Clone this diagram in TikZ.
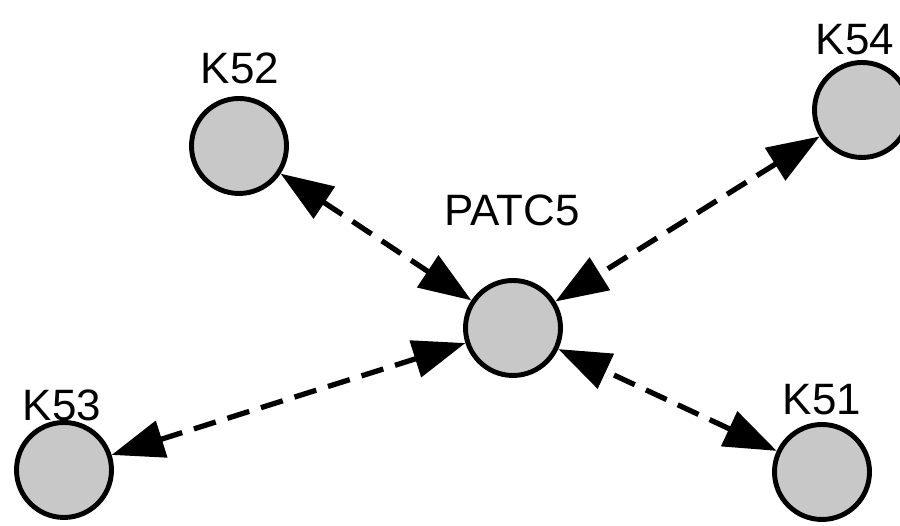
\documentclass[tikz,border=0pt]{standalone}
\usepackage{fontspec}
\setmainfont{Liberation Sans}
\usetikzlibrary{arrows.meta}
\definecolor{nodegray}{RGB}{200,200,200}

\begin{document}
\begin{tikzpicture}[
  protein/.style={circle,draw=black,line width=2.8pt,fill=nodegray,minimum size=1.9cm,inner sep=0pt},
  plabel/.style={font=\fontsize{25}{27}\selectfont,inner sep=0pt},
  link/.style={dash pattern=on 13pt off 7pt,line width=3pt,{Triangle[length=1.05cm,width=0.75cm]}-{Triangle[length=1.05cm,width=0.75cm]}}
]
\useasboundingbox (0,0) rectangle (18,10.52);
\node[protein] (patc5) at (10.26,3.96) {};
\node[protein] (k52) at (4.78,7.6) {};
\node[protein] (k54) at (17.24,8.32) {};
\node[protein] (k53) at (1.28,1.12) {};
\node[protein] (k51) at (16.44,1.08) {};
\node[plabel] (patc5lbl) at (10.24,6.32) {PATC5};
\node[plabel] (k52lbl) at (4.8,9.16) {K52};
\node[plabel] (k54lbl) at (17.1,9.72) {K54};
\node[plabel] (k53lbl) at (1.24,2.42) {K53};
\node[plabel] (k51lbl) at (16.44,2.52) {K51};
\draw[link] (k52) -- (patc5);
\draw[link] (k54) -- (patc5);
\draw[link] (k53) -- (patc5);
\draw[link] (k51) -- (patc5);
\end{tikzpicture}
\end{document}
